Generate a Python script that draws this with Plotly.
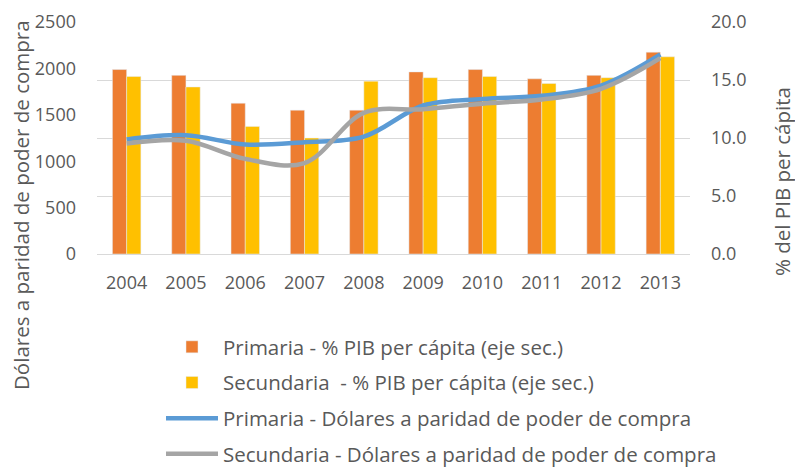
import plotly.graph_objects as go

years = ["2004", "2005", "2006", "2007", "2008", "2009", "2010", "2011", "2012", "2013"]
prim_pct = [15.9, 15.4, 13.0, 12.4, 12.4, 15.7, 15.9, 15.1, 15.4, 17.4]
sec_pct = [15.3, 14.4, 11.0, 10.0, 14.9, 15.2, 15.3, 14.7, 15.2, 17.0]
prim_usd = [1235, 1280, 1180, 1205, 1265, 1600, 1670, 1705, 1815, 2150]
sec_usd = [1190, 1220, 1025, 980, 1520, 1560, 1620, 1665, 1780, 2110]

left_ticks = [0, 500, 1000, 1500, 2000, 2500]
right_ticks = [0, 5, 10, 15, 20]

FONT = "Open Sans"
TXT = "#595959"
TICK = 18
BIG = 20.5
W, H = 795, 468
PL, PR, PT, PB = 97, 690, 22, 254  # plot area in pixels

fig = go.Figure()
fig.add_trace(go.Bar(x=years, y=prim_pct, name="Primaria - % PIB per cápita (eje sec.)",
                     marker_color="#ED7D31", yaxis="y", legendgroup="g0"))
fig.add_trace(go.Bar(x=years, y=sec_pct, name="Secundaria  - % PIB per cápita (eje sec.)",
                     marker_color="#FFC000", yaxis="y", legendgroup="g1"))
fig.add_trace(go.Scatter(x=years, y=prim_usd, name="Primaria - Dólares a paridad de poder de compra",
                         mode="lines", line=dict(color="#5B9BD5", width=4.5, shape="spline", smoothing=1.0),
                         yaxis="y2", legendgroup="g2"))
fig.add_trace(go.Scatter(x=years, y=sec_usd, name="Secundaria - Dólares a paridad de poder de compra",
                         mode="lines", line=dict(color="#A5A5A5", width=4.5, shape="spline", smoothing=1.0),
                         yaxis="y2", legendgroup="g3"))

fig.update_layout(
    width=W, height=H,
    margin=dict(l=0, r=0, t=0, b=0, autoexpand=False),
    paper_bgcolor="white", plot_bgcolor="white",
    font=dict(family=FONT, size=TICK, color=TXT),
    barmode="group", bargap=0.52, bargroupgap=0,
    showlegend=True,
    legend=dict(x=161 / W, xanchor="left", y=1 - 327.0 / H, yanchor="top",
                font=dict(family=FONT, size=BIG, color=TXT),
                tracegroupgap=6, traceorder="grouped", itemwidth=52),
    xaxis=dict(domain=[PL / W, PR / W], showgrid=False, showline=True, linecolor="#D9D9D9",
               ticks="", tickfont=dict(size=TICK, color=TXT), ticklabelstandoff=12, automargin=False),
    yaxis=dict(domain=[1 - PB / H, 1 - PT / H], side="right", range=[0, 20], tickvals=right_ticks,
               tickformat=".1f", showgrid=True, gridcolor="#D9D9D9", gridwidth=1, zeroline=False,
               tickfont=dict(size=TICK, color=TXT), ticklabelstandoff=20, automargin=False),
    yaxis2=dict(side="left", overlaying="y", range=[0, 2500], tickvals=left_ticks,
                showgrid=False, zeroline=False,
                tickfont=dict(size=TICK, color=TXT), ticklabelstandoff=20, automargin=False),
    annotations=[
        dict(text="Dólares a paridad de poder de compra", xref="paper", yref="paper",
             x=21 / W, y=1 - 205 / H, xanchor="center", yanchor="middle", textangle=-90, showarrow=False,
             font=dict(family=FONT, size=BIG, color=TXT)),
        dict(text="% del PIB per cápita", xref="paper", yref="paper",
             x=782 / W, y=1 - 182 / H, xanchor="center", yanchor="middle", textangle=-90, showarrow=False,
             font=dict(family=FONT, size=BIG, color=TXT)),
    ],
)

fig.write_html("out.html", config={"displayModeBar": False},
               post_script="document.body.style.margin='0';document.body.style.padding='0';")
